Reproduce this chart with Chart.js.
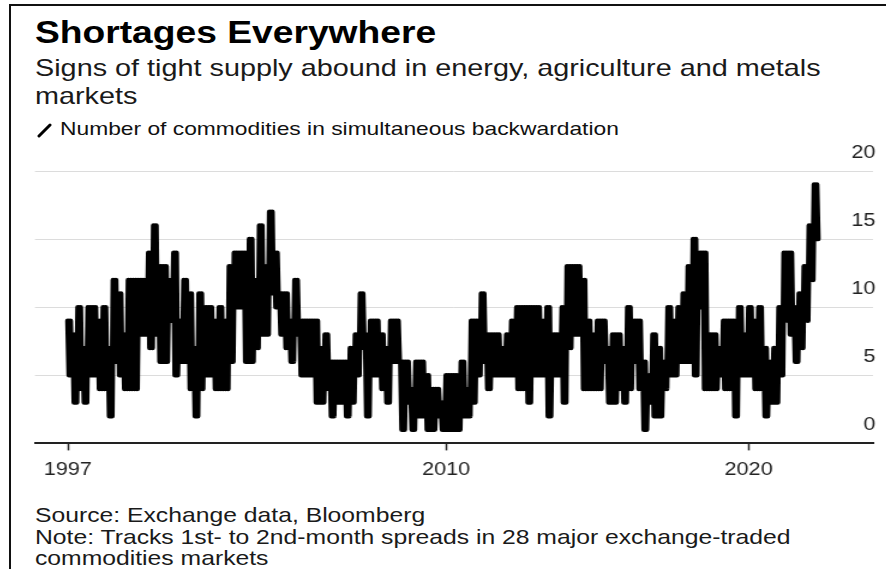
<!DOCTYPE html>
<html>
<head>
<meta charset="utf-8">
<script src="https://cdn.jsdelivr.net/npm/chart.js@4.4.1/dist/chart.umd.min.js"></script>
<style>
  html, body { margin: 0; padding: 0; background: #fff; }
  body { width: 886px; height: 569px; position: relative; overflow: hidden; font-family: "Liberation Sans", Arial, sans-serif; color: #111; }
  .frame { position: absolute; left: 9px; top: 4px; right: -10px; bottom: -10px; border-left: 2px solid #111; border-top: 2px solid #111; }
  .t { position: absolute; left: 35px; white-space: nowrap; transform: scaleX(1.2); transform-origin: 0 0; }
  .title { font-weight: bold; font-size: 31px; line-height: 31px; top: 17px; color: #000; }
  .sub { font-size: 24px; line-height: 24px; color: #1a1a1a; }
  .leg { font-size: 19px; line-height: 19px; top: 119px; left: 60px; color: #111; }
  .foot { font-size: 20.6px; line-height: 20.6px; color: #1a1a1a; }
  #icon { position: absolute; left: 37px; top: 122px; }
  #wrap { position: absolute; left: 33px; top: 140px; width: 704px; height: 350px; transform: scaleX(1.2); transform-origin: 0 0; }
</style>
</head>
<body>
<div class="frame"></div>
<div class="t title">Shortages Everywhere</div>
<div class="t sub" style="top:56px">Signs of tight supply abound in energy, agriculture and metals</div>
<div class="t sub" style="top:84px">markets</div>
<svg id="icon" width="16" height="16" viewBox="0 0 16 16"><line x1="2" y1="14" x2="13" y2="3" stroke="#000" stroke-width="3" stroke-linecap="round"/></svg>
<div class="t leg">Number of commodities in simultaneous backwardation</div>
<div id="wrap"><canvas id="c" width="704" height="350"></canvas></div>
<div class="t foot" style="top:505px">Source: Exchange data, Bloomberg</div>
<div class="t foot" style="top:527px">Note: Tracks 1st- to 2nd-month spreads in 28 major exchange-traded</div>
<div class="t foot" style="top:548px">commodities markets</div>
<script>
// Two-month periods starting mid-1997: highest and lowest count read in each period
const startYear = 1997.5;
const periodYears = 1 / 6;
const highs = [
  9,8,10,7,10,10,9,10,7,12,
  11,8,12,12,12,12,14,16,13,13,
  12,14,9,12,11,7,11,10,10,9,
  10,9,13,14,14,14,15,12,16,13,
  17,14,11,11,9,12,9,9,9,9,
  7,8,6,6,6,6,7,8,11,8,
  9,9,8,7,9,9,6,6,4,6,
  6,5,4,4,3,5,5,5,6,4,
  9,9,11,8,8,8,7,8,9,10,
  10,10,10,10,9,10,8,8,10,13,
  13,13,12,9,8,9,9,7,8,8,
  7,10,9,9,6,5,8,7,6,10,
  9,10,11,13,15,14,14,8,8,7,
  9,9,9,10,8,10,9,10,7,6,
  7,10,14,14,10,11,13,16,19
];
const lows = [
  5,3,4,3,5,5,4,4,2,6,
  5,4,4,4,8,8,7,8,6,6,
  9,5,6,6,4,2,4,5,5,4,
  4,4,6,10,10,6,6,7,8,8,
  11,10,8,7,6,8,5,5,5,3,
  3,4,2,3,3,2,3,5,7,2,
  5,5,4,3,6,6,1,3,1,2,
  2,1,1,2,1,1,1,1,2,2,
  3,5,6,4,5,5,5,5,5,4,
  4,3,5,5,5,2,5,5,3,7,
  8,8,4,4,4,4,6,3,3,4,
  3,4,6,4,1,3,2,2,4,5,
  5,6,6,6,5,10,4,4,4,5,
  4,4,2,5,5,5,4,4,2,3,
  3,5,9,8,6,7,9,12,15
];
const xTickValues = [1997.5, 2010, 2020];
const xTickLabels = ['1997', '2010', '2020'];
const yTickValues = [0, 5, 10, 15, 20];

// within each period the count swings between its high and low several times
const swingsPerPeriod = 2;
const points = [];
for (let i = 0; i < highs.length; i++) {
  const t = startYear + i * periodYears;
  const step = periodYears / (swingsPerPeriod * 2);
  for (let k = 0; k < swingsPerPeriod; k++) {
    points.push({ x: t + (2 * k) * step, y: highs[i] });
    points.push({ x: t + (2 * k + 1) * step, y: lows[i] });
  }
}

const axisFont = { family: '"Liberation Sans", Arial, sans-serif', size: 18 };

new Chart(document.getElementById('c'), {
  type: 'line',
  data: {
    datasets: [{
      data: points,
      borderColor: '#000',
      borderWidth: 4.5,
      pointRadius: 0,
      tension: 0,
      borderJoinStyle: 'round',
      borderCapStyle: 'round',
      fill: false
    }]
  },
  options: {
    responsive: false,
    animation: false,
    events: [],
    layout: { padding: { top: 31, left: 0, right: 0, bottom: 0 } },
    plugins: { legend: { display: false }, tooltip: { enabled: false } },
    scales: {
      x: {
        type: 'linear',
        min: 1996.414,
        max: 2024.11,
        afterBuildTicks: (axis) => { axis.ticks = xTickValues.map(v => ({ value: v })); },
        ticks: {
          autoSkip: false, maxRotation: 0, padding: 9, color: '#222', font: axisFont,
          callback: (v) => { const i = xTickValues.indexOf(v); return i >= 0 ? xTickLabels[i] : ''; }
        },
        grid: { drawOnChartArea: false, drawTicks: true, tickLength: 7, tickColor: '#222', tickWidth: 1.5 },
        border: { display: true, color: '#222', width: 2 }
      },
      y: {
        position: 'right',
        min: 0,
        max: 20,
        afterBuildTicks: (axis) => { axis.ticks = yTickValues.map(v => ({ value: v })); },
        ticks: { mirror: true, labelOffset: -18, padding: 2, color: '#222', font: axisFont, callback: (v) => String(v) },
        grid: { color: (c) => (c.tick && c.tick.value === 0) ? 'rgba(0,0,0,0)' : '#dcdcdc', lineWidth: 1, drawTicks: false },
        border: { display: false }
      }
    }
  }
});
</script>
</body>
</html>
